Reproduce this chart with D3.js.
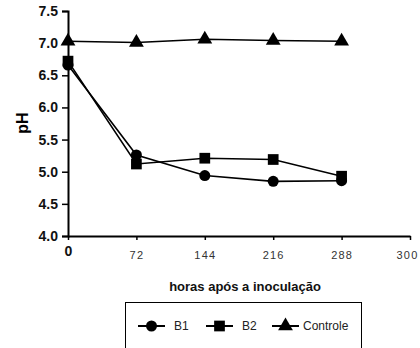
<!DOCTYPE html>
<html>
<head>
<meta charset="utf-8">
<script src="https://cdn.jsdelivr.net/npm/d3@7"></script>
<style>
  body { margin: 0; background: #fff; }
  svg { display: block; font-family: 'Liberation Sans', Arial, sans-serif; }
</style>
</head>
<body>
<svg id="canvas" width="420" height="348"></svg>
<script>
// horas após a inoculação
const hours = [0, 72, 144, 216, 288];
const b1 = [6.66, 5.26, 4.94, 4.85, 4.86];
const b2 = [6.72, 5.12, 5.21, 5.19, 4.93];
const controle = [7.03, 7.01, 7.06, 7.04, 7.03];

const xTickValues = [0, 72, 144, 216, 288, 360];
const xTickLabels = ['0', '72', '144', '216', '288', '300'];
const yTickValues = [4.0, 4.5, 5.0, 5.5, 6.0, 6.5, 7.0, 7.5];

const seriesNames = ['B1', 'B2', 'Controle'];
const seriesValues = [b1, b2, controle];
const seriesSymbols = [d3.symbolCircle, d3.symbolSquare, d3.symbolTriangle];
const symbolSizes = [95, 115, 95];

const canvas = d3.select('#canvas');

const x = d3.scaleLinear().domain([0, 360]).range([68, 410]);
const y = d3.scaleLinear().domain([4, 7.5]).range([236, 11]);

// y axis
const yAxis = canvas
  .append('g')
  .attr('transform', 'translate(68,0)')
  .call(
    d3.axisLeft(y)
      .tickValues(yTickValues)
      .tickFormat(d3.format('.1f'))
      .tickSize(6)
      .tickPadding(4)
  );
yAxis.select('.domain').attr('stroke-width', 2);
yAxis.selectAll('.tick line').attr('stroke-width', 1.5);
yAxis
  .selectAll('.tick text')
  .attr('font-size', 14)
  .attr('font-weight', 'bold')
  .attr('font-family', "'Liberation Sans', Arial, sans-serif")
  .attr('fill', '#111');

// x axis
const xAxis = canvas
  .append('g')
  .attr('transform', 'translate(0,236)')
  .call(
    d3.axisBottom(x)
      .tickValues(xTickValues)
      .tickFormat((d, i) => xTickLabels[i])
      .tickSizeInner(4)
      .tickSizeOuter(0)
      .tickPadding(6)
  );
xAxis.select('.domain').attr('stroke-width', 2);
xAxis.selectAll('.tick line').attr('stroke-width', 1.5);
xAxis
  .selectAll('.tick text')
  .attr('font-family', "'Liberation Sans', Arial, sans-serif")
  .attr('font-size', 11)
  .attr('letter-spacing', 1.2)
  .attr('fill', '#333')
  .attr('dy', '1.2em');
xAxis
  .selectAll('.tick text')
  .filter((d) => d === 0)
  .attr('font-size', 14)
  .attr('font-weight', 'bold')
  .attr('letter-spacing', 0)
  .attr('fill', '#111')
  .attr('dy', '0.71em');
xAxis
  .selectAll('.tick text')
  .filter((d) => d === 360)
  .attr('text-anchor', 'end')
  .attr('x', 8);

// axis titles
canvas
  .append('text')
  .attr('transform', 'translate(28,123) rotate(-90)')
  .attr('text-anchor', 'middle')
  .attr('font-size', 16)
  .attr('font-weight', 'bold')
  .text('pH');

canvas
  .append('text')
  .attr('x', 245)
  .attr('y', 291)
  .attr('text-anchor', 'middle')
  .attr('font-size', 13)
  .attr('font-weight', 'bold')
  .attr('fill', '#111')
  .text('horas após a inoculação');

// lines and markers
const line = d3
  .line()
  .x((d, i) => x(hours[i]))
  .y((d) => y(d));

seriesValues.forEach((values, s) => {
  canvas
    .append('path')
    .datum(values)
    .attr('fill', 'none')
    .attr('stroke', '#000')
    .attr('stroke-width', 1.6)
    .attr('d', line);

  canvas
    .selectAll('.marker-' + s)
    .data(values)
    .enter()
    .append('path')
    .attr('class', 'marker-' + s)
    .attr('transform', (d, i) => 'translate(' + x(hours[i]) + ',' + y(d) + ')')
    .attr('d', d3.symbol().type(seriesSymbols[s]).size(symbolSizes[s]))
    .attr('fill', '#000');
});

// legend
canvas
  .append('rect')
  .attr('x', 125.5)
  .attr('y', 302.5)
  .attr('width', 236)
  .attr('height', 60)
  .attr('fill', 'none')
  .attr('stroke', '#000')
  .attr('stroke-width', 1);

const legendX = [138, 206, 272];
const legend = canvas
  .selectAll('.legend')
  .data(seriesNames)
  .enter()
  .append('g')
  .attr('class', 'legend')
  .attr('transform', (d, i) => 'translate(' + legendX[i] + ',326)');

legend
  .append('line')
  .attr('x1', 0)
  .attr('x2', 27)
  .attr('stroke', '#000')
  .attr('stroke-width', 2);

legend
  .append('path')
  .attr('transform', 'translate(13.5,0)')
  .attr('d', (d, i) => d3.symbol().type(seriesSymbols[i]).size(symbolSizes[i])())
  .attr('fill', '#000');

legend
  .append('text')
  .attr('x', (d, i) => (i === 2 ? 31 : 36))
  .attr('y', 0)
  .attr('dy', '0.35em')
  .attr('font-size', 12)
  .attr('fill', '#222')
  .text((d) => d);
</script>
</body>
</html>
